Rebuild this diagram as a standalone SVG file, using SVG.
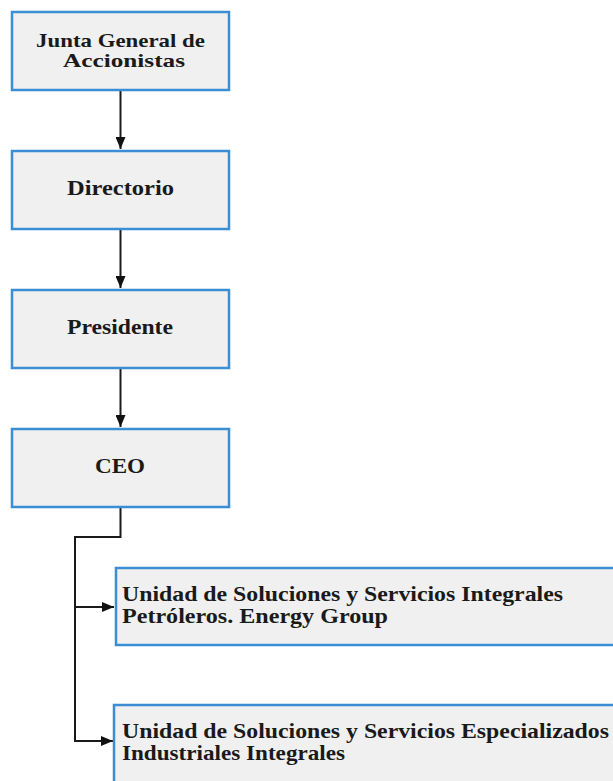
<svg xmlns="http://www.w3.org/2000/svg" width="613" height="781" viewBox="0 0 613 781">
<defs>
<marker id="arr" markerWidth="12" markerHeight="10" refX="12" refY="5" orient="auto" markerUnits="userSpaceOnUse">
<path d="M0,0 L12,5 L0,10 z" fill="#111"/>
</marker>
<style>
.box{fill:#f0f0f0;stroke:#3b8ed4;stroke-width:2.5}
.t{font-family:"Liberation Serif","Times New Roman",serif;font-weight:bold;font-size:21px;fill:#1a1a1a}
.s{font-size:19px}
.ln{fill:none;stroke:#1a1a1a;stroke-width:2}
</style>
</defs>
<rect width="613" height="781" fill="#fff"/>
<g id="connectors">
<path class="ln" d="M120.5,91 V149" marker-end="url(#arr)"/>
<path class="ln" d="M120.5,230 V288" marker-end="url(#arr)"/>
<path class="ln" d="M120.5,369 V427" marker-end="url(#arr)"/>
<path class="ln" d="M120.5,508 V537 H75 V741 H113" marker-end="url(#arr)"/>
<path class="ln" d="M75,607 H114" marker-end="url(#arr)"/>
</g>
<g id="junta">
<rect class="box" x="12" y="12" width="217" height="78"/>
<text class="t s" x="36" y="47" textLength="169" lengthAdjust="spacingAndGlyphs">Junta General de</text>
<text class="t s" x="63" y="67" textLength="122" lengthAdjust="spacingAndGlyphs">Accionistas</text>
</g>
<g id="directorio">
<rect class="box" x="12" y="151" width="217" height="78"/>
<text class="t" x="67" y="195" textLength="107" lengthAdjust="spacingAndGlyphs">Directorio</text>
</g>
<g id="presidente">
<rect class="box" x="12" y="290" width="217" height="78"/>
<text class="t" x="67" y="334" textLength="106" lengthAdjust="spacingAndGlyphs">Presidente</text>
</g>
<g id="ceo">
<rect class="box" x="12" y="429" width="217" height="78"/>
<text class="t" x="95" y="473" textLength="50" lengthAdjust="spacingAndGlyphs">CEO</text>
</g>
<g id="unidad1">
<rect class="box" x="116" y="568" width="520" height="77"/>
<text class="t" x="122" y="601" textLength="441" lengthAdjust="spacingAndGlyphs">Unidad de Soluciones y Servicios Integrales</text>
<text class="t" x="122" y="623" textLength="266" lengthAdjust="spacingAndGlyphs">Petróleros. Energy Group</text>
</g>
<g id="unidad2">
<rect class="box" x="114" y="705" width="520" height="100"/>
<text class="t" x="122" y="738" textLength="487" lengthAdjust="spacingAndGlyphs">Unidad de Soluciones y Servicios Especializados</text>
<text class="t" x="122" y="760" textLength="223" lengthAdjust="spacingAndGlyphs">Industriales Integrales</text>
</g>
</svg>
